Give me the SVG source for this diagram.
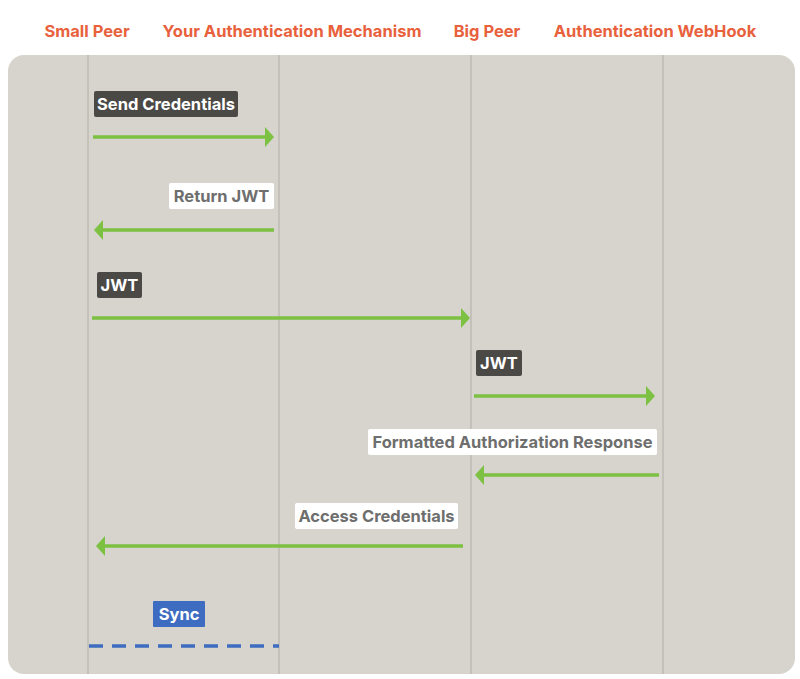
<svg xmlns="http://www.w3.org/2000/svg" width="800" height="679" viewBox="0 0 800 679">
<style>
.hdr{font-family:Inter,"Liberation Sans",sans-serif;font-weight:700;font-size:16.5px;fill:#e8613c;text-anchor:middle}
.lbl{font-family:Inter,"Liberation Sans",sans-serif;font-weight:700;font-size:16.5px;text-anchor:middle}
.dark rect{fill:#4a4946}
.dark text{fill:#ffffff}
.light rect{fill:#ffffff}
.light text{fill:#6e6e6e}
.blue rect{fill:#3e6cc0}
.blue text{fill:#ffffff}
.life{stroke:#c3c1ba;stroke-width:2}
.msg{stroke:#7cc142;stroke-width:3.5;fill:none}
.head{fill:#7cc142}
</style>
<rect width="800" height="679" fill="#ffffff"/>
<rect x="8" y="55" width="787" height="619" rx="16" fill="#d6d4cd"/>
<g id="small-peer">
<text class="hdr" x="87" y="37">Small Peer</text>
<line class="life" x1="88" y1="55" x2="88" y2="674"/>
</g>
<g id="auth-mechanism">
<text class="hdr" x="292" y="37">Your Authentication Mechanism</text>
<line class="life" x1="279" y1="55" x2="279" y2="674"/>
</g>
<g id="big-peer">
<text class="hdr" x="487" y="37">Big Peer</text>
<line class="life" x1="471" y1="55" x2="471" y2="674"/>
</g>
<g id="auth-webhook">
<text class="hdr" x="655" y="37">Authentication WebHook</text>
<line class="life" x1="663" y1="55" x2="663" y2="674"/>
</g>
<g id="connectors">
<g id="m1">
<line class="msg" x1="93" y1="137" x2="266" y2="137"/>
<path class="head" d="M274,137 L265,127 L265,147 Z"/>
<g class="dark"><rect x="94" y="91" width="144" height="26" rx="2"/><text class="lbl" x="166" y="110">Send Credentials</text></g>
</g>
<g id="m2">
<line class="msg" x1="274" y1="230" x2="102" y2="230"/>
<path class="head" d="M94,230 L103,220 L103,240 Z"/>
<g class="light"><rect x="169" y="183" width="105" height="26" rx="2"/><text class="lbl" x="221.5" y="202">Return JWT</text></g>
</g>
<g id="m3">
<line class="msg" x1="92" y1="318" x2="462" y2="318"/>
<path class="head" d="M470,318 L461,308 L461,328 Z"/>
<g class="dark"><rect x="97" y="272" width="45" height="26" rx="2"/><text class="lbl" x="119.5" y="291">JWT</text></g>
</g>
<g id="m4">
<line class="msg" x1="474" y1="396" x2="647" y2="396"/>
<path class="head" d="M655,396 L646,386 L646,406 Z"/>
<g class="dark"><rect x="476" y="350" width="46" height="26" rx="2"/><text class="lbl" x="499" y="369">JWT</text></g>
</g>
<g id="m5">
<line class="msg" x1="659" y1="475" x2="483" y2="475"/>
<path class="head" d="M475,475 L484,465 L484,485 Z"/>
<g class="light"><rect x="368" y="429" width="289" height="26" rx="2"/><text class="lbl" x="512.5" y="448">Formatted Authorization Response</text></g>
</g>
<g id="m6">
<line class="msg" x1="463" y1="546" x2="104" y2="546"/>
<path class="head" d="M96,546 L105,536 L105,556 Z"/>
<g class="light"><rect x="295" y="503" width="163" height="26" rx="2"/><text class="lbl" x="376.5" y="522">Access Credentials</text></g>
</g>
<g id="m7">
<line x1="89" y1="646" x2="279" y2="646" stroke="#3e6cc0" stroke-width="3.5" stroke-dasharray="14 9"/>
<g class="blue"><rect x="153" y="601" width="52" height="26" rx="1"/><text class="lbl" x="179" y="620">Sync</text></g>
</g>
</g>
</svg>
